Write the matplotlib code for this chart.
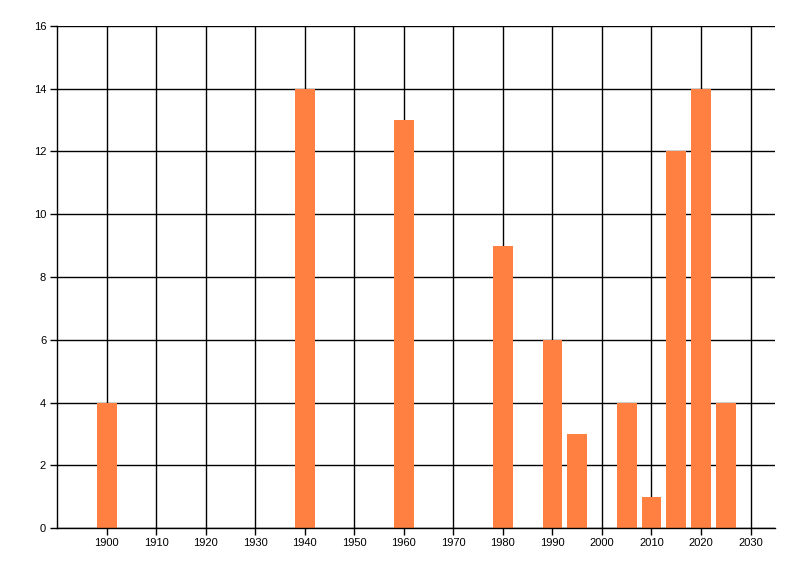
import matplotlib
matplotlib.use("Agg")
import matplotlib.pyplot as plt

# values
years = [1900, 1940, 1960, 1980, 1990, 1995, 2005, 2010, 2015, 2020, 2025]
counts = [4, 14, 13, 9, 6, 3, 4, 1, 12, 14, 4]
x_ticks = list(range(1900, 2031, 10))
y_ticks = list(range(0, 17, 2))

plt.rcParams['font.family'] = ['Liberation Sans', 'DejaVu Sans']

fig = plt.figure(figsize=(8, 5.76), dpi=100)
ax = fig.add_axes([0.0716, 0.0833, 0.8975, 0.8716])

ax.bar(years, counts, width=4, color='#ff8040', zorder=3)

ax.set_xlim(1890, 2035)
ax.set_ylim(0, 16)
ax.set_xticks(x_ticks)
ax.set_yticks(y_ticks)
ax.grid(True, color='black', linewidth=1.0, zorder=0)
ax.set_axisbelow(True)

for side in ['top', 'right']:
    ax.spines[side].set_visible(False)
for side in ['left', 'bottom']:
    ax.spines[side].set_linewidth(1.0)
    ax.spines[side].set_zorder(4)

ax.tick_params(axis='both', length=5, width=1.0, labelsize=8, colors='black')
ax.tick_params(axis='y', pad=3)
ax.tick_params(axis='x', pad=2)

fig.savefig('out.png', dpi=100)
